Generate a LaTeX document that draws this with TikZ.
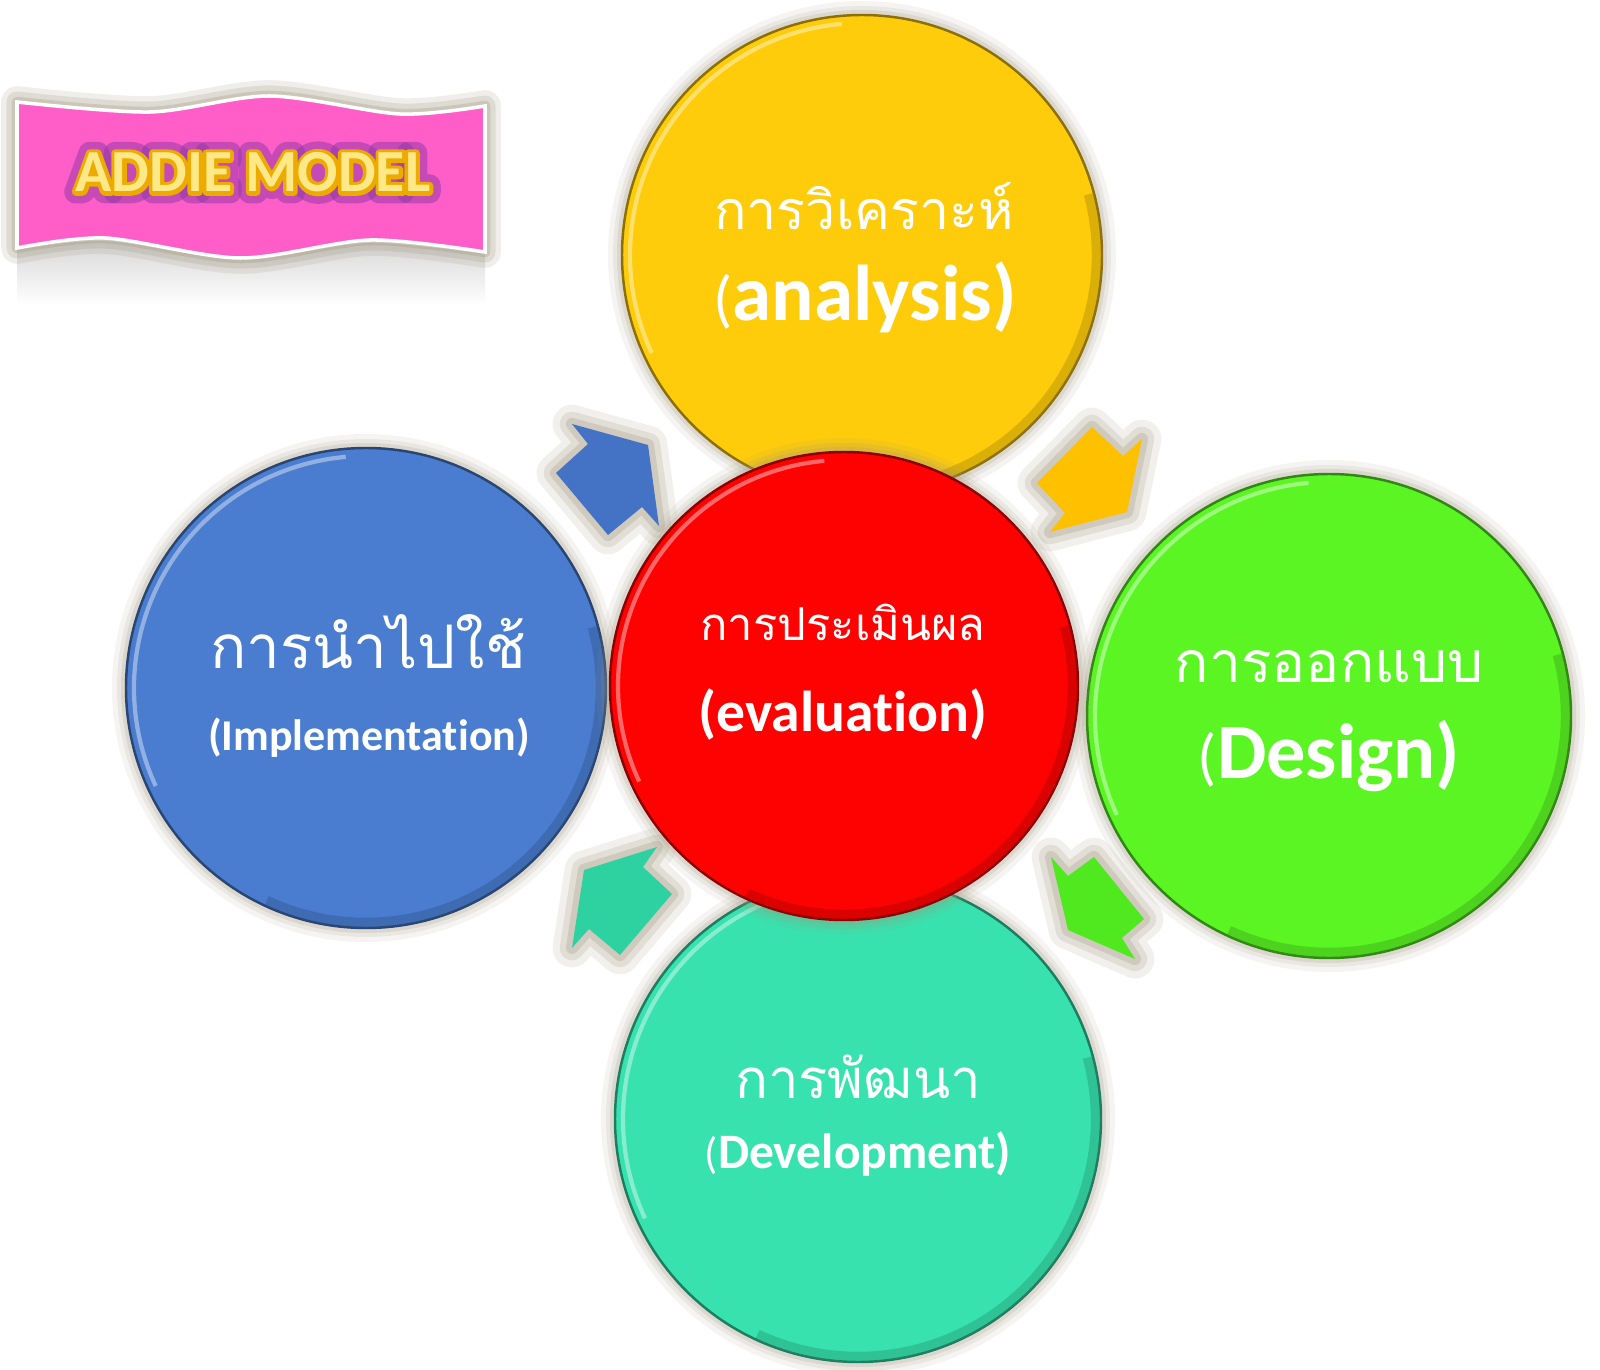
\documentclass[tikz,border=0pt]{standalone}
\usepackage{fontspec}
\newfontfamily\thaifont[Script=Thai]{Loma}
\newfontfamily\calfont{Carlito}[Ligatures=NoCommon]
\usetikzlibrary{calc}

\definecolor{anacol}{RGB}{254,204,10}
\definecolor{descol}{RGB}{90,245,35}
\definecolor{devcol}{RGB}{55,226,174}
\definecolor{impcol}{RGB}{74,125,207}
\definecolor{evacol}{RGB}{254,2,2}
\definecolor{arrblue}{RGB}{68,114,196}
\definecolor{arryellow}{RGB}{255,192,0}
\definecolor{arrgreen}{RGB}{80,232,30}
\definecolor{arrteal}{RGB}{45,210,160}
\definecolor{haze}{RGB}{160,150,125}
\definecolor{flagpink}{RGB}{255,94,200}
\definecolor{titlefill}{RGB}{255,232,135}

\tikzset{
  disc/.style={circle, inner sep=0pt, fill=#1, draw=#1!55!black, line width=.7pt},
  thailabel/.style={anchor=base, text=white, font=\thaifont\fontsize{#1}{#1}\selectfont},
  englabel/.style={anchor=base, text=white, font=\calfont\bfseries\fontsize{#1}{#1}\selectfont},
  haze layer/.style={haze, opacity=#1},
  title/.style={anchor=base, font=\calfont\bfseries\fontsize{17}{17}\selectfont},
}

% text painted as outline only: line width (pt), stroke colour (rgb)
\newcommand{\strokedtext}[3]{\special{pdf:literal direct 1 Tr 1 j #1 w #2 RG}#3\special{pdf:literal direct 0 Tr}}

% soft shadowed disc: name, centre, radius, colour
\newcommand{\phasedisc}[4]{%
  \foreach \w/\o in {14/.1,9/.14,5/.2}
    \fill[haze layer=\o] #2 circle[radius=#3+\w];
  \node[disc=#4, minimum size=#3*0.2mm] (#1) at #2 {};
  \draw[#4!60!black, opacity=.35, line width=3pt] ($(#1)+(-15:#3-5)$) arc[start angle=-15, end angle=115, radius=#3-5];
  \draw[white, opacity=.4, line width=1.2pt] ($(#1)+(-205:#3-8)$) arc[start angle=-205, end angle=-95, radius=#3-8];
}

% block arrow with a soft edge: colour, outline
\newcommand{\cyclearrow}[2]{%
  \foreach \w/\o in {11/.14,7/.2,3.5/.28}
    \draw[haze layer=\o, line width=\w pt, line join=round] #2 -- cycle;
  \fill[#1] #2 -- cycle;
}

\newcommand{\flagoutline}{(17,102) -- plot[smooth] coordinates {(17,102) (150,112) (270,96) (400,114) (485,106)} -- (485,252) -- plot[smooth] coordinates {(485,252) (370,240) (240,258) (105,238) (17,248)} -- cycle}

\begin{document}
\begin{tikzpicture}[x=0.1mm,y=-0.1mm]
  \useasboundingbox (0,0) rectangle (1600,1370);

  % banner and its reflection
  \shade[top color=black!16, bottom color=white] (17,250) -- plot[smooth] coordinates {(17,250) (105,241) (240,259) (370,243) (485,254)} -- (485,305) -- (17,305) -- cycle;
  \foreach \w/\o in {9/.16,6/.22,3/.3}
    \draw[haze layer=\o, line width=\w pt, line join=round] \flagoutline;
  \fill[flagpink] \flagoutline;
  \draw[white, line width=1pt] \flagoutline;

  \node[title, opacity=.5] (bannerglow) at (253,192) {\strokedtext{6.5}{0.55 0.22 0.65}{ADDIE MODEL}};
  \node[title] (bannerrim) at (253,192) {\strokedtext{2.2}{0.93 0.67 0}{ADDIE MODEL}};
  \node[title, text=titlefill] (banner) at (253,192) {ADDIE MODEL};

  % the four phases
  \phasedisc{analysis}{(862,255)}{240}{anacol}
  \phasedisc{development}{(858,1119)}{243}{devcol}
  \phasedisc{implementation}{(366,688)}{240}{impcol}
  \phasedisc{design}{(1329,716)}{242}{descol}

  % arrows of the cycle
  \cyclearrow{arrblue}{(572,424) -- (588,444) -- (556,473) -- (608,535) -- (642,507) -- (659,526) -- (648,445)}
  \cyclearrow{arryellow}{(1092,427) -- (1123,456) -- (1142,439) -- (1127,512) -- (1050,532) -- (1065,513) -- (1037,483)}
  \cyclearrow{arrgreen}{(1051,857) -- (1068,876) -- (1094,857) -- (1144,919) -- (1122,938) -- (1135,959) -- (1068,930)}
  \cyclearrow{arrteal}{(657,847) -- (643,867) -- (672,894) -- (620,955) -- (589,929) -- (572,948) -- (584,870)}

  % evaluation in the middle
  \phasedisc{evaluation}{(844,686)}{234}{evacol}

  % labels
  \node[thailabel=15.3] (anaTh) at (864,230) {การวิเคราะห์};
  \node[englabel=22.5] (anaEn) at (865,321) {{\mdseries\fontsize{18}{18}\selectfont(}analysis)};
  \node[thailabel=12.9] (evaTh) at (843,640) {การประเมินผล};
  \node[englabel=16.4] (evaEn) at (843,731) {(evaluation)};
  \node[thailabel=16.2] (desTh) at (1329,682) {การออกแบบ};
  \node[englabel=22.3] (desEn) at (1329,778) {{\mdseries\fontsize{18}{18}\selectfont(}Design)};
  \node[thailabel=15.5] (devTh) at (858,1098) {การพัฒนา};
  \node[englabel=14.1] (devEn) at (858,1168) {{\mdseries\fontsize{12.5}{12.5}\selectfont(}Development)};
  \node[thailabel=17.1] (impTh) at (368,668) {การนำไปใช้};
  \node[englabel=12.5] (impEn) at (369,750) {(Implementation)};
\end{tikzpicture}
\end{document}
